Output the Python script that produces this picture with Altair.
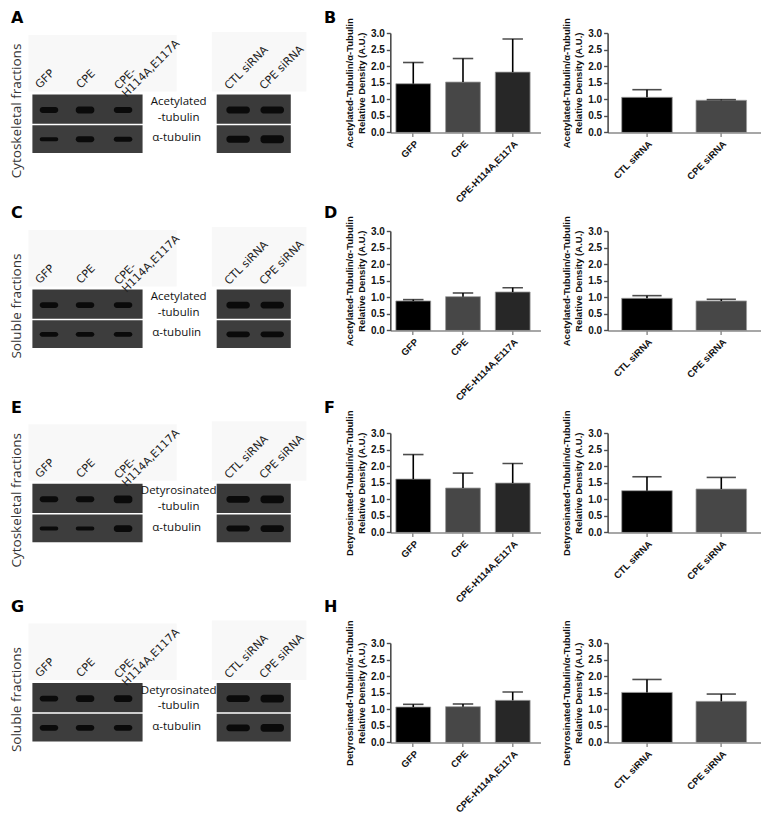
import altair as alt
import pandas as pd

K = 0.975


def px(v):
    return round(v * K, 2)


# ---------------- data ----------------
oe_groups = ["GFP", "CPE", "CPE-H114A,E117A"]
kd_groups = ["CTL siRNA", "CPE siRNA"]
oe_colors = ["#000000", "#474747", "#272727"]
kd_colors = ["#000000", "#474747"]

acet_title = ["Acetylated-Tubulin/α-Tubulin", "Relative Density (A.U.)"]
detyr_title = ["Detyrosinated-Tubulin/α-Tubulin", "Relative Density (A.U.)"]
y_ticks = [0.0, 0.5, 1.0, 1.5, 2.0, 2.5, 3.0]

# B : acetylated tubulin, cytoskeletal fraction
b_oe_mean = [1.47, 1.52, 1.82]
b_oe_sem = [0.64, 0.71, 1.00]
b_kd_mean = [1.06, 0.97]
b_kd_sem = [0.23, 0.02]
# D : acetylated tubulin, soluble fraction
d_oe_mean = [0.89, 1.02, 1.16]
d_oe_sem = [0.04, 0.11, 0.13]
d_kd_mean = [0.97, 0.89]
d_kd_sem = [0.08, 0.05]
# F : detyrosinated tubulin, cytoskeletal fraction
f_oe_mean = [1.61, 1.34, 1.49]
f_oe_sem = [0.74, 0.45, 0.59]
f_kd_mean = [1.26, 1.31]
f_kd_sem = [0.42, 0.35]
# H : detyrosinated tubulin, soluble fraction
h_oe_mean = [1.07, 1.08, 1.27]
h_oe_sem = [0.08, 0.08, 0.25]
h_kd_mean = [1.51, 1.24]
h_kd_sem = [0.39, 0.22]

# blot annotations
oe_lane_labels = ["GFP", "CPE", "CPE-\nH114A,E117A"]
kd_lane_labels = ["CTL siRNA", "CPE siRNA"]
letters_left = ["A", "C", "E", "G"]
letters_right = ["B", "D", "F", "H"]
fractions = ["Cytoskeletal fractions", "Soluble fractions",
             "Cytoskeletal fractions", "Soluble fractions"]
target_names = [["Acetylated", "-tubulin"], ["Acetylated", "-tubulin"],
                ["Detyrosinated", "-tubulin"], ["Detyrosinated", "-tubulin"]]
loading_name = "α-tubulin"
# band thickness per lane (3 OE lanes + 2 siRNA lanes)
band_target = [[6, 7, 6, 7, 7], [6, 6, 6, 7, 7], [6, 6, 8, 7, 8], [6, 7, 7, 7, 8]]
band_alpha = [[4, 6, 5, 7, 8], [5, 5, 5, 6, 6], [4, 4, 7, 6, 7], [6, 6, 6, 7, 8]]

FONT = "Liberation Sans"

# layout (reference pixels): chart tops, blot-row tops, row pitches
CHART_TOP = [0, 203, 410, 625]
BLOT_TOP = [0, 200, 399, 603]
ROW_H = [203, 207, 215, 150]
BLOT_W = 323


# ---------------- bar charts ----------------
def bar_chart(cats, means, sems, colors, title, width, pi, po, align, cap):
    df = pd.DataFrame({"group": cats, "mean": means, "sem": sems})
    df["upper"] = df["mean"] + df["sem"]
    xscale = alt.Scale(domain=cats, paddingInner=pi, paddingOuter=po, align=align)
    xaxis = alt.Axis(labelAngle=-45, labelFont=FONT, labelFontWeight="bold",
                     labelFontSize=9.5, labelColor="#111", domainColor="#8a8a8a",
                     domainWidth=1.6, tickColor="#8a8a8a", tickWidth=1.4, tickSize=4,
                     labelPadding=2, labelLimit=200)
    yscale = alt.Scale(domain=[0, 3], nice=False, zero=True)
    yaxis = alt.Axis(values=y_ticks, format=".1f", labelOverlap=False, labelFont=FONT,
                     labelFontWeight="bold", labelFontSize=10, labelColor="#111",
                     domainColor="#4d4d4d", domainWidth=1.6, tickColor="#4d4d4d",
                     tickWidth=1.4, tickSize=4, labelPadding=2, titleFont=FONT,
                     titleFontWeight="bold", titleFontSize=9.5, titleColor="#111",
                     titlePadding=4, titleLineHeight=12)
    xenc = alt.X("group:N", sort=cats, title=None, scale=xscale, axis=xaxis)
    base = alt.Chart(df)
    bars = base.mark_bar(stroke="#9c9c9c", strokeWidth=0.8).encode(
        x=xenc,
        y=alt.Y("mean:Q", title=title, scale=yscale, axis=yaxis),
        color=alt.Color("group:N", scale=alt.Scale(domain=cats, range=colors), legend=None),
    )
    err = base.mark_rule(color="#000", strokeWidth=1.6).encode(
        x=xenc,
        y=alt.Y("mean:Q", title=title, scale=yscale, axis=yaxis),
        y2="upper:Q",
    )
    caps = base.mark_tick(color="#000", thickness=1.6, size=cap).encode(
        x=xenc,
        y=alt.Y("upper:Q", title=title, scale=yscale, axis=yaxis),
    )
    return alt.layer(bars, err, caps).properties(width=px(width), height=px(102))


# ---------------- blot panels ----------------
OE_X = [41, 78, 117]
KD_X = [235, 270]


def blot_panel(i):
    d = BLOT_TOP[i] - CHART_TOP[i]
    rects = []
    rects.append(dict(x=20, x2=172, y=2, y2=60, fill="#f8f8f8"))
    rects.append(dict(x=208, x2=305, y=-1, y2=60, fill="#f8f8f8"))
    for (a, b) in [(24, 137), (213, 289)]:
        rects.append(dict(x=a, x2=b, y=63, y2=93, fill="#3a3a3a"))
        rects.append(dict(x=a, x2=b, y=94.5, y2=123, fill="#3d3d3d"))
    rect_df = pd.DataFrame(rects)

    bands = []
    centers = OE_X + KD_X
    halfw = [9.5, 9.5, 9.5, 12, 12]
    for j, c in enumerate(centers):
        t = band_target[i][j]
        a = band_alpha[i][j]
        bands.append(dict(x=c - halfw[j], x2=c + halfw[j], y=79 - t / 2, y2=79 + t / 2))
        bands.append(dict(x=c - halfw[j], x2=c + halfw[j], y=109 - a / 2, y2=109 + a / 2))
    band_df = pd.DataFrame(bands)

    X = alt.X("x:Q", scale=alt.Scale(domain=[0, BLOT_W], nice=False, zero=False), axis=None)
    Y = alt.Y("y:Q", scale=alt.Scale(domain=[-d, ROW_H[i] - d], nice=False, zero=False,
                                     reverse=True), axis=None)

    rect_layer = alt.Chart(rect_df).mark_rect().encode(
        x=X, x2="x2:Q", y=Y, y2="y2:Q", color=alt.Color("fill:N", scale=None))
    band_layer = alt.Chart(band_df).mark_rect(cornerRadius=3, color="#0a0a0a").encode(
        x=X, x2="x2:Q", y=Y, y2="y2:Q")

    letter_df = pd.DataFrame({"x": [2, 323], "y": [-10, -10],
                              "t": [letters_left[i], letters_right[i]]})
    letter_layer = alt.Chart(letter_df).mark_text(
        font="DejaVu Sans", fontSize=16, fontWeight="bold", align="left",
        baseline="alphabetic", color="#000").encode(x=X, y=Y, text="t:N")

    frac_df = pd.DataFrame({"x": [8], "y": [80], "t": [fractions[i]]})
    frac_layer = alt.Chart(frac_df).mark_text(
        font="Open Sans", fontSize=13.5, angle=270, align="center", baseline="middle",
        color="#333").encode(x=X, y=Y, text="t:N")

    lane_df = pd.DataFrame({"x": [33, 75, 114, 227, 263], "y": [59, 59, 60, 60, 60],
                            "t": oe_lane_labels + kd_lane_labels})
    lane_layer = alt.Chart(lane_df).mark_text(
        font="DejaVu Sans", fontSize=11, angle=315, align="left", baseline="bottom",
        lineBreak="\n", lineHeight=11, color="#222").encode(x=X, y=Y, text="t:N")

    tgt_df = pd.DataFrame({"x": [174, 174, 172], "y": [71, 87, 108],
                           "t": target_names[i] + [loading_name]})
    tgt_layer = alt.Chart(tgt_df).mark_text(
        font="Open Sans", fontSize=11.5, align="center", baseline="middle",
        color="#111").encode(x=X, y=Y, text="t:N")

    return alt.layer(rect_layer, band_layer, letter_layer, frac_layer, lane_layer,
                     tgt_layer).properties(width=px(BLOT_W), height=px(ROW_H[i]))


# ---------------- assemble ----------------
rows = [
    (b_oe_mean, b_oe_sem, b_kd_mean, b_kd_sem, acet_title),
    (d_oe_mean, d_oe_sem, d_kd_mean, d_kd_sem, acet_title),
    (f_oe_mean, f_oe_sem, f_kd_mean, f_kd_sem, detyr_title),
    (h_oe_mean, h_oe_sem, h_kd_mean, h_kd_sem, detyr_title),
]
cells = []
for i, (om, os_, km, ks, ttl) in enumerate(rows):
    c1 = bar_chart(oe_groups, om, os_, oe_colors, ttl, 154, 0.3, 0.16, 0.35, px(21))
    c2 = bar_chart(kd_groups, km, ks, kd_colors, ttl, 157, 0.32, 0.19, 0.5, px(30))
    cells += [blot_panel(i), c1, c2]

chart = alt.concat(
    *cells, columns=3, spacing={"row": 0, "column": px(68)}, bounds="flush"
).properties(
    padding={"top": 2, "left": 1, "right": 0, "bottom": 0}
).configure_view(stroke=None).configure_axis(grid=False)

chart.save("out.html", embed_options={"renderer": "svg", "actions": False})
